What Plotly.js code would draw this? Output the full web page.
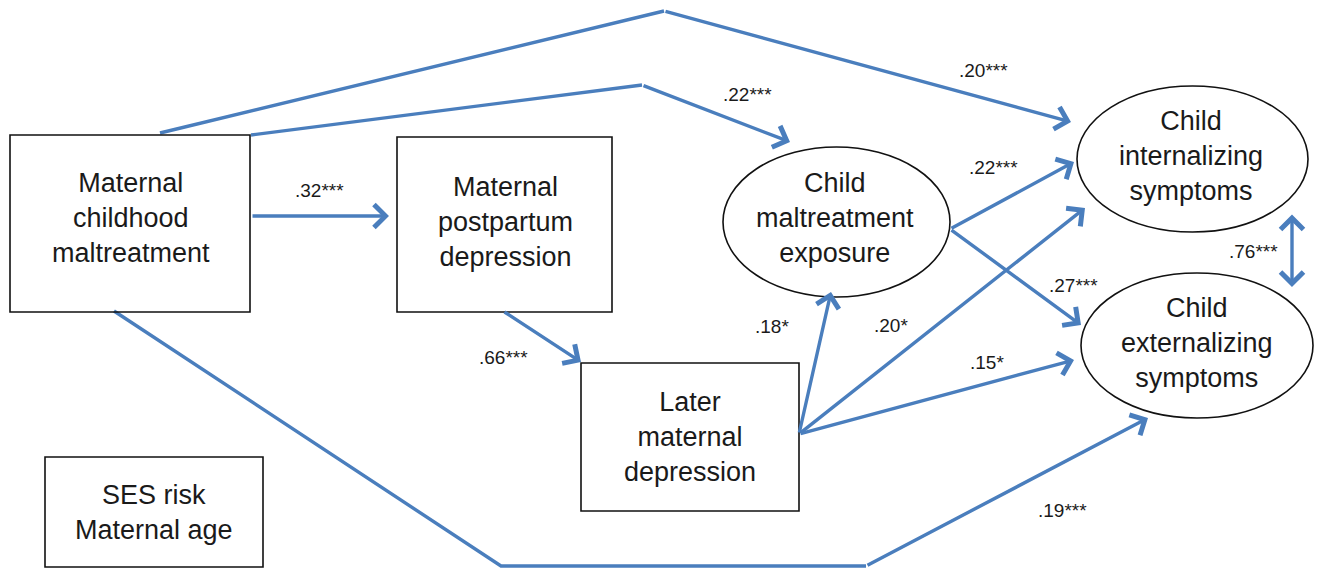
<!DOCTYPE html>
<html>
<head>
<meta charset="utf-8">
<script src="https://cdn.plot.ly/plotly-3.0.1.min.js"></script>
<style>html,body{margin:0;padding:0;background:#fff;}#chart{width:1321px;height:570px;}</style>
</head>
<body>
<div id="chart"></div>
<script>
// ---- data ----
const nodeNames = ["matChild", "matPost", "laterDep", "ses", "childMal", "childInt", "childExt"];
const nodeLabels = [
  "Maternal<br>childhood<br>maltreatment",
  "Maternal<br>postpartum<br>depression",
  "Later<br>maternal<br>depression",
  "SES risk<br>Maternal age",
  "Child<br>maltreatment<br>exposure",
  "Child<br>internalizing<br>symptoms",
  "Child<br>externalizing<br>symptoms"
];
const nodeKinds = ["box", "box", "box", "box", "ellipse", "ellipse", "ellipse"];
const pathFrom = ["matChild", "matPost", "matChild", "matChild", "laterDep", "laterDep", "laterDep", "childMal", "childMal", "matChild", "childInt"];
const pathTo   = ["matPost", "laterDep", "childMal", "childInt", "childMal", "childInt", "childExt", "childInt", "childExt", "childExt", "childExt"];
const pathCoef = [0.32, 0.66, 0.22, 0.20, 0.18, 0.20, 0.15, 0.22, 0.27, 0.19, 0.76];
const pathStars = ["***", "***", "***", "***", "*", "*", "*", "***", "***", "***", "***"];

// ---- layout geometry (pixel-like data coordinates) ----
const nodeBox = { // x0, y0, x1, y1
  matChild: [10, 135, 250, 312],
  matPost: [397, 137, 612, 312],
  laterDep: [581, 363, 799, 511],
  ses: [45, 457, 263, 567],
  childMal: [723, 147, 950, 297],
  childInt: [1077, 86, 1308, 232],
  childExt: [1081, 273, 1313, 418]
};
const nodeTextPos = {
  matChild: [131, 218], matPost: [505, 222], laterDep: [690, 437], ses: [154, 512],
  childMal: [835, 218], childInt: [1191, 156], childExt: [1197, 343]
};
// polyline points for each path (last segment gets arrowhead)
const pathPoints = [
  [[251, 216], [389, 216]],
  [[503, 311], [581, 362]],
  [[251, 135], [642, 85], [790, 142]],
  [[160, 133], [664, 11], [1071, 122]],
  [[799, 434], [831, 292]],
  [[799, 434], [1085, 208]],
  [[799, 434], [1074, 360]],
  [[950, 229], [1074, 162]],
  [[950, 229], [1081, 325]],
  [[114, 311], [501, 566], [866, 566], [1148, 418]],
  [[1292, 213], [1292, 287]]
];
const labelPos = [
  [319, 190], [503, 357], [747, 94], [983, 70], [772, 326], [891, 325],
  [987, 362], [993, 167], [1073, 285], [1062, 510], [1253, 251]
];
const doubleHeaded = [false, false, false, false, false, false, false, false, false, false, true];

const blue = "#4a7ebd";
const fontFam = "Liberation Sans, Arial, sans-serif";

const shapes = [];
const annotations = [];
const traces = [];

nodeNames.forEach((n, i) => {
  const b = nodeBox[n];
  shapes.push({
    type: nodeKinds[i] === "box" ? "rect" : "circle",
    xref: "x", yref: "y",
    x0: b[0], y0: b[1], x1: b[2], y1: b[3],
    line: {color: "#111", width: 1.6},
    fillcolor: "rgba(255,255,255,0)",
    layer: "above"
  });
  const tp = nodeTextPos[n];
  annotations.push({
    x: tp[0], y: tp[1], xref: "x", yref: "y",
    text: nodeLabels[i], showarrow: false,
    font: {family: fontFam, size: 27, color: "#1a1a1a"},
    align: "center"
  });
});

pathPoints.forEach((pts, i) => {
  if (pts.length > 2) {
    const head = pts.slice(0, pts.length - 1);
    traces.push({
      x: head.map(p => p[0]), y: head.map(p => p[1]),
      mode: "lines", type: "scatter", hoverinfo: "skip",
      line: {color: blue, width: 3.4}, showlegend: false
    });
  }
  const a = pts[pts.length - 2], b = pts[pts.length - 1];
  annotations.push({
    x: b[0], y: b[1], ax: a[0], ay: a[1],
    xref: "x", yref: "y", axref: "x", ayref: "y",
    text: "", showarrow: true,
    arrowhead: 4, arrowsize: 1.3, arrowwidth: 3.4, arrowcolor: blue,
    startarrowhead: 4, startarrowsize: 1.3,
    arrowside: doubleHeaded[i] ? "end+start" : "end"
  });
  const lp = labelPos[i];
  annotations.push({
    x: lp[0], y: lp[1], xref: "x", yref: "y",
    text: pathCoef[i].toFixed(2).replace(/^0/, "") + pathStars[i],
    showarrow: false,
    font: {family: fontFam, size: 19, color: "#1a1a1a"}
  });
});

const layout = {
  width: 1321, height: 570,
  margin: {l: 0, r: 0, t: 0, b: 0},
  paper_bgcolor: "#fff", plot_bgcolor: "#fff",
  xaxis: {range: [0, 1321], visible: false, fixedrange: true},
  yaxis: {range: [570, 0], visible: false, fixedrange: true},
  shapes: shapes,
  annotations: annotations,
  showlegend: false
};

Plotly.newPlot("chart", traces, layout, {staticPlot: true, displayModeBar: false});
</script>
</body>
</html>
